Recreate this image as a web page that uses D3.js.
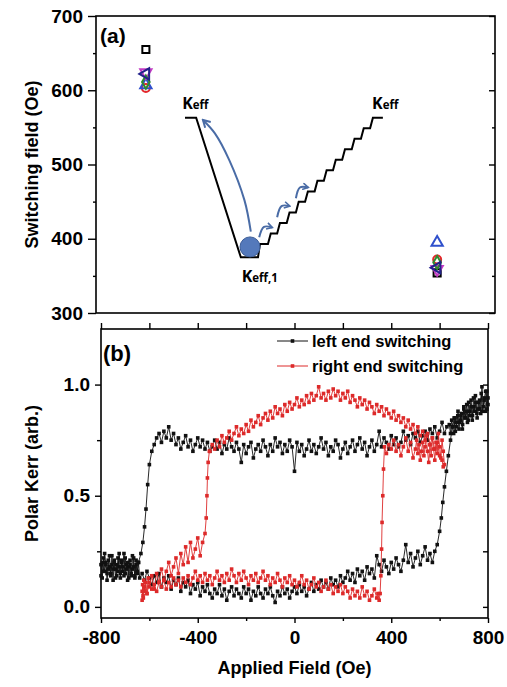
<!DOCTYPE html>
<html>
<head>
<meta charset="utf-8">
<script src="https://cdn.jsdelivr.net/npm/d3@7"></script>
<style>
  body { margin: 0; background: #fff; }
  svg text { font-family: "Liberation Sans", Arial, sans-serif; font-weight: bold; }
</style>
</head>
<body>
<svg id="chart" width="507" height="687"></svg>
<script>
// ---- panel (a): switching field of each pad, left end / right end ----
const padPos = [12.5, 85.5];
const squareField = [655, 354];
const circleField = [603, 372];
const upTriField = [607, 395];
const downTriField = [624, 359];
const diamondField = [611, 368];
const leftTriField = [622, 361];
const yTicksA = [300, 400, 500, 600, 700];
const yMinorA = [350, 450, 550, 650];

// energy landscape sketch (panel a units: x 0..100, y in Oe)
const landscape = [[22.3,563],[25.1,563],[36.3,375],[40.6,375],[41.1,393],[43.1,393],
  [43.8,407.2],[45.4,407.2],[46.1,421.3],[47.8,421.3],[48.5,435.5],[50.1,435.5],[50.8,449.7],[52.4,449.7],
  [53.1,463.8],[54.8,463.8],[55.5,478],[57.1,478],[57.8,492.2],[59.4,492.2],[60.1,506.3],[61.7,506.3],
  [62.4,520.5],[64.1,520.5],[64.8,534.7],[66.4,534.7],[67.1,548.8],[68.7,548.8],[69.4,563],[71.9,563]];
const longArrow = [[38.8,409.5],[37.2,452],[33.4,506],[29.8,542],[26.8,560]];
const hopArrows = [
  [[40.9,402],[42.1,416],[44.2,415]],
  [[45.4,429],[46.5,444],[48.6,444]],
  [[50.1,454.5],[51.1,469],[53.2,469]]
];
const ball = [38.6, 389];

// ---- panel (b): polar Kerr loops [field (Oe), signal] ----
const blackUp = [[-800,.19],[-795,.13],[-790,.22],[-785,.16],[-780,.20],[-775,.12],[-770,.17],[-765,.23],
  [-760,.15],[-755,.19],[-750,.12],[-745,.21],[-740,.17],[-735,.14],[-730,.22],[-725,.18],[-720,.13],
  [-715,.20],[-710,.16],[-705,.24],[-700,.15],[-695,.19],[-690,.12],[-685,.18],[-680,.21],[-675,.14],
  [-670,.17],[-665,.22],[-660,.13],[-655,.19],[-650,.15],[-645,.20],[-640,.13],[-630,.15],[-620,.12],
  [-610,.16],[-600,.13],[-590,.10],[-580,.14],[-570,.11],[-560,.15],[-550,.09],[-540,.13],[-530,.11],
  [-520,.14],[-510,.08],[-500,.12],[-490,.10],[-480,.13],[-470,.07],[-460,.11],[-450,.09],[-440,.12],
  [-430,.06],[-420,.10],[-410,.08],[-400,.11],[-390,.05],[-380,.09],[-370,.07],[-360,.10],[-350,.06],
  [-340,.04],[-330,.08],[-320,.06],[-310,.10],[-300,.05],[-290,.08],[-280,.03],[-270,.07],[-260,.09],
  [-250,.05],[-240,.08],[-230,.06],[-220,.04],[-210,.09],[-200,.06],[-190,.08],[-180,.03],[-170,.07],
  [-160,.05],[-150,.09],[-140,.06],[-130,.04],[-120,.08],[-110,.06],[-100,.09],[-90,.05],[-80,.02],
  [-70,.07],[-60,.05],[-50,.09],[-40,.06],[-30,.08],[-20,.04],[-10,.07],[0,.09],[10,.06],[20,.10],
  [30,.07],[40,.09],[50,.05],[60,.08],[70,.11],[80,.07],[90,.10],[100,.08],[110,.12],[120,.09],
  [130,.11],[140,.08],[150,.13],[160,.10],[170,.12],[180,.09],[190,.14],[200,.11],[210,.13],[220,.16],
  [230,.12],[240,.15],[250,.11],[260,.17],[270,.14],[280,.16],[290,.12],[300,.18],[310,.15],[320,.17],
  [330,.13],[340,.23],[350,.19],[360,.16],[370,.21],[380,.18],[390,.15],[400,.20],[410,.17],[420,.22],
  [430,.19],[440,.16],[450,.21],[460,.28],[470,.20],[480,.24],[490,.18],[500,.22],[510,.25],[520,.19],
  [530,.23],[540,.27],[550,.21],[560,.24],[570,.20],[580,.25],[590,.28],[600,.34],[607,.40],[613,.47],
  [620,.54],[628,.61],[636,.68],[645,.75],[652,.81],[658,.78],[664,.85],[670,.81],[676,.88],[682,.83],
  [688,.86],[694,.80],[700,.89],[706,.85],[712,.91],[718,.84],[724,.88],[730,.93],[736,.86],[742,.90],
  [748,.95],[754,.87],[760,.92],[766,.89],[772,.96],[778,.88],[784,.93],[790,.97],[796,.89],[800,.94]];
const blackDown = [[800,.91],[795,.97],[790,.88],[785,.94],[780,.90],[775,.99],[770,.87],[765,.93],
  [760,.89],[755,.85],[750,.92],[745,.88],[740,.94],[735,.84],[730,.90],[725,.86],[720,.92],[715,.83],
  [710,.88],[705,.85],[700,.90],[695,.82],[690,.87],[685,.84],[680,.80],[675,.86],[670,.83],[665,.79],
  [660,.85],[655,.81],[650,.84],[645,.78],[640,.82],[630,.81],[620,.78],[610,.83],[600,.79],[590,.76],
  [580,.81],[570,.78],[560,.80],[550,.75],[540,.79],[530,.77],[520,.74],[510,.79],[500,.76],[490,.78],
  [480,.73],[470,.77],[460,.75],[450,.79],[440,.74],[430,.72],[420,.76],[410,.73],[400,.77],[390,.71],
  [380,.74],[370,.76],[360,.72],[350,.79],[340,.73],[330,.70],[320,.75],[310,.72],[300,.68],[290,.74],
  [280,.71],[270,.76],[260,.73],[250,.70],[240,.75],[230,.72],[220,.69],[210,.74],[200,.71],[190,.67],
  [180,.73],[170,.75],[160,.70],[150,.72],[140,.68],[130,.74],[120,.71],[110,.76],[100,.72],[90,.69],
  [80,.73],[70,.70],[60,.75],[50,.71],[40,.68],[30,.73],[20,.70],[10,.74],[0,.61],[-10,.72],[-20,.75],
  [-30,.70],[-40,.73],[-50,.69],[-60,.74],[-70,.72],[-80,.76],[-90,.70],[-100,.73],[-110,.68],[-120,.72],
  [-130,.75],[-140,.70],[-150,.73],[-160,.71],[-170,.67],[-180,.74],[-190,.72],[-200,.69],[-210,.73],
  [-220,.65],[-230,.71],[-240,.74],[-250,.70],[-260,.72],[-270,.76],[-280,.71],[-290,.73],[-300,.69],
  [-310,.74],[-320,.71],[-330,.75],[-340,.72],[-350,.70],[-360,.74],[-370,.71],[-380,.75],[-390,.72],
  [-400,.76],[-410,.73],[-420,.70],[-430,.75],[-440,.72],[-450,.77],[-460,.74],[-470,.71],[-480,.76],
  [-490,.73],[-500,.78],[-510,.75],[-520,.81],[-530,.76],[-540,.79],[-550,.74],[-560,.78],[-570,.76],
  [-580,.73],[-590,.70],[-600,.64],[-607,.55],[-614,.44],[-620,.36],[-627,.29],[-635,.24],[-645,.20],
  [-650,.16],[-655,.21],[-660,.14],[-665,.18],[-670,.23],[-675,.15],[-680,.19],[-685,.13],[-690,.20],
  [-695,.17],[-700,.22],[-705,.14],[-710,.18],[-715,.21],[-720,.15],[-725,.24],[-730,.16],[-735,.19],
  [-740,.13],[-745,.20],[-750,.17],[-755,.23],[-760,.14],[-765,.18],[-770,.21],[-775,.15],[-780,.19],
  [-785,.24],[-790,.16],[-795,.20],[-800,.14]];
const redUp = [[-630,.03],[-628,.10],[-626,.05],[-623,.12],[-620,.07],[-615,.11],[-610,.06],[-605,.13],
  [-600,.09],[-590,.14],[-580,.08],[-570,.15],[-560,.11],[-550,.17],[-540,.12],[-530,.16],[-520,.20],
  [-510,.14],[-500,.18],[-490,.22],[-480,.15],[-470,.24],[-460,.19],[-450,.27],[-440,.20],[-430,.29],
  [-420,.22],[-410,.26],[-400,.31],[-390,.23],[-380,.29],[-370,.33],[-365,.40],[-362,.50],[-360,.58],
  [-357,.65],[-352,.70],[-350,.70],[-340,.73],[-330,.71],[-320,.75],[-310,.72],[-300,.77],[-290,.74],
  [-280,.76],[-270,.79],[-260,.75],[-250,.78],[-240,.81],[-230,.77],[-220,.80],[-210,.78],[-200,.82],
  [-190,.79],[-180,.84],[-170,.81],[-160,.83],[-150,.86],[-140,.82],[-130,.85],[-120,.87],[-110,.84],
  [-100,.88],[-90,.85],[-80,.90],[-70,.87],[-60,.89],[-50,.86],[-40,.91],[-30,.88],[-20,.92],[-10,.89],
  [0,.91],[10,.94],[20,.90],[30,.93],[40,.91],[50,.95],[60,.92],[70,.96],[80,.93],[90,.95],[100,.99],
  [110,.94],[120,.96],[130,.93],[140,.97],[150,.94],[160,.98],[170,.95],[180,.97],[190,.93],[200,.96],
  [210,.94],[220,.97],[230,.92],[240,.95],[250,.93],[260,.90],[270,.94],[280,.91],[290,.93],[300,.89],
  [310,.92],[320,.90],[330,.87],[340,.91],[350,.88],[360,.90],[370,.86],[380,.89],[390,.87],[400,.85],
  [410,.88],[420,.84],[430,.86],[440,.83],[450,.85],[460,.81],[470,.84],[480,.80],[490,.82],[500,.78],
  [510,.81],[520,.77],[530,.79],[540,.75],[550,.78],[560,.73],[570,.76],[580,.71],[590,.74],[600,.68],
  [610,.66],[615,.63]];
const redDown = [[620,.64],[615,.70],[610,.75],[605,.67],[600,.72],[595,.78],[590,.69],[585,.74],
  [580,.66],[575,.71],[570,.76],[565,.68],[560,.73],[555,.65],[550,.70],[545,.77],[540,.72],[535,.68],
  [530,.74],[525,.70],[520,.66],[515,.73],[510,.69],[505,.75],[500,.71],[490,.67],[480,.74],[470,.70],
  [460,.76],[450,.72],[440,.68],[430,.73],[420,.70],[410,.75],[400,.71],[390,.73],[380,.69],[372,.72],
  [368,.62],[365,.50],[362,.38],[360,.26],[357,.14],[354,.06],[350,.03],[345,.06],[340,.04],[330,.08],
  [320,.05],[310,.03],[300,.07],[290,.05],[280,.09],[270,.04],[260,.07],[250,.05],[240,.08],[230,.04],
  [220,.07],[210,.09],[200,.06],[190,.10],[180,.07],[170,.09],[160,.06],[150,.10],[140,.08],[130,.12],
  [120,.09],[110,.07],[100,.11],[90,.09],[80,.13],[70,.10],[60,.08],[50,.12],[40,.10],[30,.14],[20,.11],
  [10,.09],[0,.12],[-10,.10],[-20,.14],[-30,.11],[-40,.13],[-50,.09],[-60,.12],[-70,.15],[-80,.11],
  [-90,.13],[-100,.10],[-110,.14],[-120,.12],[-130,.16],[-140,.13],[-150,.11],[-160,.15],[-170,.12],
  [-180,.14],[-190,.10],[-200,.13],[-210,.16],[-220,.12],[-230,.15],[-240,.11],[-250,.14],[-260,.17],
  [-270,.12],[-280,.15],[-290,.11],[-300,.14],[-310,.12],[-320,.16],[-330,.13],[-340,.10],[-350,.14],
  [-360,.12],[-370,.15],[-380,.11],[-390,.14],[-400,.12],[-410,.16],[-420,.13],[-430,.10],[-440,.14],
  [-450,.11],[-460,.13],[-470,.09],[-480,.12],[-490,.10],[-500,.13],[-510,.09],[-520,.11],[-530,.08],
  [-540,.12],[-550,.09],[-560,.11],[-570,.07],[-580,.10],[-590,.08],[-600,.11],[-610,.06],[-620,.09],
  [-625,.04],[-630,.07]];
const xTicksB = [-800, -400, 0, 400, 800];
const xMinorB = [-600, -200, 200, 600];
const yTicksB = [0, 0.5, 1.0];
const yMinorB = [0.25, 0.75];
const legendLabels = ["left end switching", "right end switching"];

const arrowColor = "#4a6ca6";
const svg = d3.select("#chart");

// plain frame + ticks helper
function frame(x0, x1, y0, y1) {
  svg.append("rect").attr("x", x0).attr("y", y0).attr("width", x1 - x0).attr("height", y1 - y0)
    .attr("fill", "none").attr("stroke", "#000").attr("stroke-width", 1.6);
}
function ticks(axis, tx, ty, fs) {
  const g = svg.append("g").attr("transform", `translate(${tx},${ty})`).call(axis);
  g.select(".domain").remove();
  g.selectAll("line").attr("stroke", "#000").attr("stroke-width", 1.4);
  g.selectAll("text").attr("font-size", fs || 19).attr("fill", "#000")
    .style("font-family", '"Liberation Sans", Arial, sans-serif').style("font-weight", "bold");
  return g;
}

// ================= panel (a) =================
const xA = d3.scaleLinear().domain([0, 100]).range([96, 495]);
const yA = d3.scaleLinear().domain([300, 700]).range([313, 16]);

ticks(d3.axisLeft(yA).tickValues(yTicksA).tickSize(8).tickPadding(5).tickFormat(d => d), 96, 0);
ticks(d3.axisLeft(yA).tickValues(yMinorA).tickSize(3).tickFormat(""), 96, 0);
ticks(d3.axisLeft(yA).tickValues(yTicksA).tickSize(6).tickFormat(""), 495, 0);
ticks(d3.axisLeft(yA).tickValues(yMinorA).tickSize(3).tickFormat(""), 495, 0);
frame(96, 495, 16, 313);

svg.append("text").attr("x", 100).attr("y", 43).attr("font-size", 21).text("(a)");
svg.append("text").attr("transform", `translate(38,${(16 + 313) / 2}) rotate(-90)`)
  .attr("text-anchor", "middle").attr("font-size", 18).text("Switching field (Oe)");

// landscape sketch
const lineA = d3.line().x(d => xA(d[0])).y(d => yA(d[1]));
svg.append("path").attr("d", lineA(landscape)).attr("fill", "none")
  .attr("stroke", "#000").attr("stroke-width", 2).attr("stroke-linejoin", "miter");

const defs = svg.append("defs");
[["arrBig", 10], ["arrSmall", 8]].forEach(([id, s]) => {
  defs.append("marker").attr("id", id).attr("viewBox", "0 0 10 10")
    .attr("refX", 8).attr("refY", 5).attr("markerWidth", s).attr("markerHeight", s)
    .attr("markerUnits", "userSpaceOnUse").attr("orient", "auto")
    .append("path").attr("d", "M1,1 L8,5 L1,9").attr("fill", "none")
    .attr("stroke", arrowColor).attr("stroke-width", 2);
});
const curveA = d3.line().x(d => xA(d[0])).y(d => yA(d[1])).curve(d3.curveCatmullRom);
svg.append("path").attr("d", curveA(longArrow)).attr("fill", "none")
  .attr("stroke", arrowColor).attr("stroke-width", 2).attr("marker-end", "url(#arrBig)");
hopArrows.forEach(a => {
  svg.append("path").attr("d", curveA(a)).attr("fill", "none")
    .attr("stroke", arrowColor).attr("stroke-width", 2).attr("marker-end", "url(#arrSmall)");
});
svg.append("circle").attr("cx", xA(ball[0])).attr("cy", yA(ball[1])).attr("r", 10)
  .attr("fill", "#5479bb").attr("stroke", "#3f5f98").attr("stroke-width", 1);

function kLabel(x, y, sub) {
  const t = svg.append("text").attr("x", xA(x)).attr("y", yA(y))
    .style("font-family", '"Open Sans", "Liberation Sans", sans-serif');
  t.append("tspan").attr("font-size", 16).text("K");
  t.append("tspan").attr("font-size", 11.5).text(sub);
}
kLabel(21.6, 575, "eff");
kLabel(69.2, 575, "eff");
kLabel(36.5, 342, "eff,1");

// switching-field markers
const markerSets = [
  { vals: squareField, type: d3.symbolSquare, size: 50, rot: 0, color: "#000000" },
  { vals: circleField, type: d3.symbolCircle, size: 50, rot: 0, color: "#e3262b" },
  { vals: upTriField, type: d3.symbolTriangle, size: 55, rot: 0, color: "#2f50cc" },
  { vals: downTriField, type: d3.symbolTriangle, size: 55, rot: 180, color: "#c43cc4" },
  { vals: diamondField, type: d3.symbolDiamond, size: 50, rot: 0, color: "#2f8a2f" },
  { vals: leftTriField, type: d3.symbolTriangle, size: 55, rot: -90, color: "#22228a" }
];
markerSets.forEach(m => {
  svg.append("g").selectAll("path").data(m.vals).join("path")
    .attr("transform", (d, i) => `translate(${xA(padPos[i])},${yA(d)}) rotate(${m.rot})`)
    .attr("d", d3.symbol().type(m.type).size(m.size))
    .attr("fill", "none").attr("stroke", m.color).attr("stroke-width", 2);
});

// ================= panel (b) =================
const xB = d3.scaleLinear().domain([-800, 800]).range([101, 488]);
const yB = d3.scaleLinear().domain([-0.05, 1.25]).range([618, 329]);

ticks(d3.axisBottom(xB).tickValues(xTicksB).tickSize(5).tickPadding(8).tickFormat(d => String(d)), 0, 618);
ticks(d3.axisBottom(xB).tickValues(xMinorB).tickSize(3).tickFormat(""), 0, 618);
ticks(d3.axisBottom(xB).tickValues(xTicksB.concat(xMinorB)).tickSize(-6).tickFormat(""), 0, 329);
ticks(d3.axisLeft(yB).tickValues(yTicksB).tickSize(6).tickPadding(5).tickFormat(d3.format(".1f")), 101, 0);
ticks(d3.axisLeft(yB).tickValues(yMinorB).tickSize(4).tickFormat(""), 101, 0);
ticks(d3.axisLeft(yB).tickValues(yTicksB.concat(yMinorB)).tickSize(5).tickFormat(""), 488, 0);
frame(101, 488, 329, 618);

svg.append("text").attr("x", 103).attr("y", 361).attr("font-size", 22).text("(b)");
svg.append("text").attr("transform", `translate(38,${(329 + 618) / 2}) rotate(-90)`)
  .attr("text-anchor", "middle").attr("font-size", 18).text("Polar Kerr (arb.)");
svg.append("text").attr("x", (101 + 488) / 2).attr("y", 674)
  .attr("text-anchor", "middle").attr("font-size", 18).text("Applied Field (Oe)");

const lineB = d3.line().x(d => xB(d[0])).y(d => yB(d[1]));
const loops = [
  { data: blackUp, color: "#111111" },
  { data: blackDown, color: "#111111" },
  { data: redUp, color: "#dd2a2a" },
  { data: redDown, color: "#dd2a2a" }
];
loops.forEach(s => {
  const g = svg.append("g");
  g.append("path").attr("d", lineB(s.data)).attr("fill", "none")
    .attr("stroke", s.color).attr("stroke-width", 0.9);
  g.selectAll("rect").data(s.data).join("rect")
    .attr("x", d => xB(d[0]) - 1.8).attr("y", d => yB(d[1]) - 1.8)
    .attr("width", 3.6).attr("height", 3.6).attr("fill", s.color);
});

// legend
const legColors = ["#111111", "#dd2a2a"];
legendLabels.forEach((lab, i) => {
  const y = 341 + i * 25;
  svg.append("line").attr("x1", 277).attr("x2", 308).attr("y1", y).attr("y2", y)
    .attr("stroke", legColors[i]).attr("stroke-width", 1);
  svg.append("rect").attr("x", 290.7).attr("y", y - 1.8).attr("width", 3.6).attr("height", 3.6)
    .attr("fill", legColors[i]);
  svg.append("text").attr("x", 312).attr("y", y + 6).attr("font-size", 16.5).text(lab);
});
</script>
</body>
</html>
